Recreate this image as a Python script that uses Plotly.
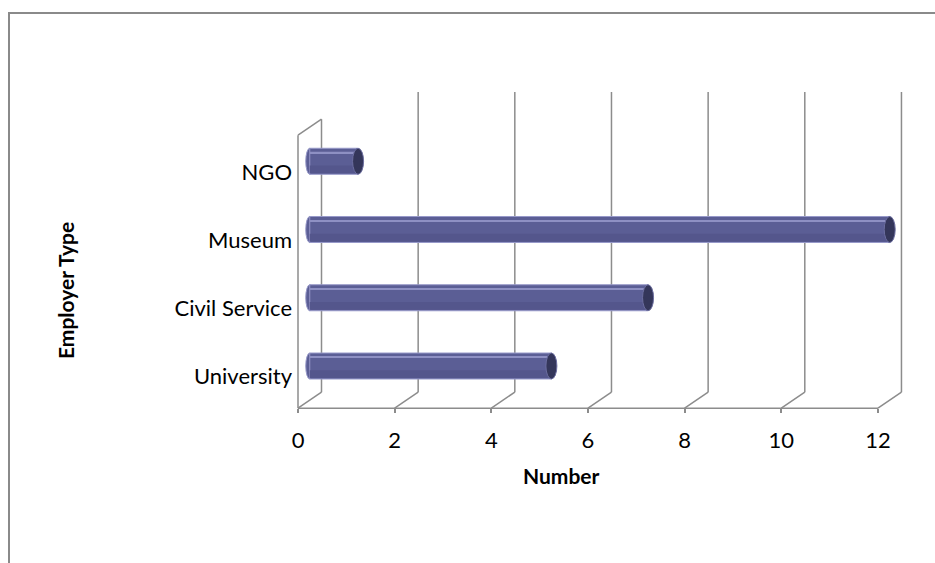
import plotly.graph_objects as go

# Survey data: number of graduates by employer type
categories = ["University", "Civil Service", "Museum", "NGO"]
counts = [5, 7, 12, 1]
value_ticks = [0, 2, 4, 6, 8, 10, 12]

W, H = 935, 563

# Front-plane scale: value 0 sits at x=298 px, 48.33 px per unit
PX_PER_UNIT = 48.33
X_ORIGIN_PX = 298
# Category scale: 68.25 px per category, first bar centre at y=366 px
PX_PER_CAT = 68.25
Y_FIRST_PX = 366

x_range = [-X_ORIGIN_PX / PX_PER_UNIT, (W - X_ORIGIN_PX) / PX_PER_UNIT]
y_range = [-(H - Y_FIRST_PX) / PX_PER_CAT, Y_FIRST_PX / PX_PER_CAT]

# 3-D depth offsets (front -> back) in data units
DX = 23.5 / PX_PER_UNIT
DY = 16 / PX_PER_CAT
n = len(categories)
y_front_floor = -0.5 - DY / 2
y_front_top = n - 0.5 - DY / 2
y_back_floor = -0.5 + DY / 2
y_back_top = n - 0.5 + DY / 2
y_grid_top = (Y_FIRST_PX - 92) / PX_PER_CAT

GRID = "#8c8c8c"
BODY = "#5b5e95"
SHADE = "#54568c"
EDGE = "#9799c9"
HILITE = "#8e90c3"
CAP = "#34365a"

BAR_W = 26 / PX_PER_CAT
base = DX / 2
ypos = list(range(n))

fig = go.Figure()

shapes = []
# back wall gridlines and floor diagonals
for v in value_ticks:
    top = y_back_top if v == 0 else y_grid_top
    shapes.append(dict(type="line", xref="x", yref="y", x0=v + DX, x1=v + DX,
                       y0=y_back_floor, y1=top, line=dict(color=GRID, width=1.5),
                       layer="below"))
    shapes.append(dict(type="line", xref="x", yref="y", x0=v, x1=v + DX,
                       y0=y_front_floor, y1=y_back_floor,
                       line=dict(color=GRID, width=1.5), layer="below"))
# front floor edge
shapes.append(dict(type="line", xref="x", yref="y", x0=0, x1=value_ticks[-1],
                   y0=y_front_floor, y1=y_front_floor,
                   line=dict(color=GRID, width=1.5), layer="below"))
# left side wall
shapes.append(dict(type="line", xref="x", yref="y", x0=0, x1=0,
                   y0=y_front_floor, y1=y_front_top,
                   line=dict(color=GRID, width=1.5), layer="below"))
shapes.append(dict(type="line", xref="x", yref="y", x0=0, x1=DX,
                   y0=y_front_top, y1=y_back_top,
                   line=dict(color=GRID, width=1.5), layer="below"))

# rounded start of each cylinder
r_start = 4 / PX_PER_UNIT
for y in ypos:
    shapes.append(dict(type="circle", xref="x", yref="y",
                       x0=base - r_start, x1=base + r_start,
                       y0=y - BAR_W / 2, y1=y + BAR_W / 2,
                       fillcolor=BODY, line=dict(color=EDGE, width=1),
                       layer="below"))

# cylinder bodies
fig.add_trace(go.Bar(y=ypos, x=counts, base=base, orientation="h",
                     width=BAR_W, offset=-BAR_W / 2,
                     marker=dict(color=BODY, line=dict(color=EDGE, width=1)),
                     hoverinfo="skip", showlegend=False))
fig.add_trace(go.Bar(y=ypos, x=counts, base=base, orientation="h",
                     width=BAR_W * 0.3, offset=-BAR_W / 2 + 1 / PX_PER_CAT,
                     marker=dict(color=SHADE, line=dict(width=0)),
                     hoverinfo="skip", showlegend=False))
fig.add_trace(go.Bar(y=ypos, x=counts, base=base, orientation="h",
                     width=1.5 / PX_PER_CAT, offset=BAR_W / 2 - 5 / PX_PER_CAT,
                     marker=dict(color=HILITE, line=dict(width=0)),
                     hoverinfo="skip", showlegend=False))

# dark end caps
r_cap = 5.5 / PX_PER_UNIT
for y, c in zip(ypos, counts):
    end = base + c
    shapes.append(dict(type="circle", xref="x", yref="y",
                       x0=end - r_cap, x1=end + r_cap,
                       y0=y - BAR_W / 2, y1=y + BAR_W / 2,
                       fillcolor=CAP, line=dict(color="#6c6ea0", width=1),
                       layer="above"))

# chart frame (only its top and left edges fall inside the page)
shapes.append(dict(type="rect", xref="paper", yref="paper",
                   x0=9 / W, x1=1.1, y0=-0.1, y1=1 - 13 / H,
                   line=dict(color="#8a8a8a", width=2), fillcolor="rgba(0,0,0,0)",
                   layer="below"))

FONT = "Lato, Carlito, Calibri, sans-serif"

fig.update_layout(
    width=W, height=H,
    margin=dict(l=0, r=0, t=0, b=0),
    paper_bgcolor="white", plot_bgcolor="white",
    barmode="overlay",
    shapes=shapes,
    font=dict(family=FONT, color="black"),
    xaxis=dict(range=x_range, domain=[0, 1], showgrid=False, zeroline=False,
               showline=False, tickvals=value_ticks, ticks="outside",
               ticklen=4, tickcolor=GRID, tickwidth=1.5,
               anchor="free", position=1 - 408 / H,
               ticklabelstandoff=9, tickfont=dict(size=22, family=FONT)),
    yaxis=dict(range=y_range, domain=[0, 1], showgrid=False, zeroline=False,
               showline=False, tickvals=[y - DY / 2 - 0.04 for y in ypos],
               ticktext=categories, ticks="",
               anchor="free", position=X_ORIGIN_PX / W,
               ticklabelstandoff=6, tickfont=dict(size=22, family=FONT)),
    annotations=[
        dict(text="<b>Employer Type</b>", xref="paper", yref="paper",
             x=65 / W, y=1 - 291 / H, xanchor="center", yanchor="middle",
             textangle=-90, showarrow=False,
             font=dict(size=21, family=FONT)),
        dict(text="<b>Number</b>", xref="paper", yref="paper",
             x=561 / W, y=1 - 475 / H, xanchor="center", yanchor="middle",
             showarrow=False,
             font=dict(size=21, family=FONT)),
    ],
)

fig.write_html("out.html")
